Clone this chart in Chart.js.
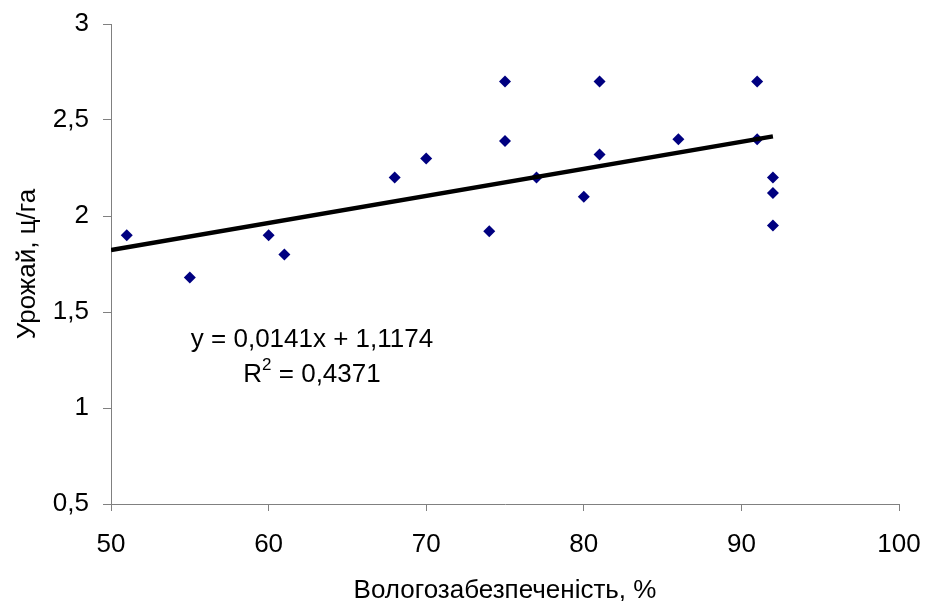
<!DOCTYPE html>
<html>
<head>
<meta charset="utf-8">
<script src="https://cdn.jsdelivr.net/npm/chart.js@4/dist/chart.umd.min.js"></script>
<style>
  html, body { margin: 0; padding: 0; background: #fff; }
  #wrap { width: 929px; height: 601px; }
</style>
</head>
<body>
<div id="wrap"><canvas id="canvas" width="929" height="601"></canvas></div>
<script>
// moisture supply, %
var moisture = [51, 55, 60, 61, 68, 70, 74, 75, 75, 77, 80, 81, 81, 86, 91, 91, 92, 92, 92];
// yield, c/ha
var yieldVals = [1.9, 1.68, 1.9, 1.8, 2.2, 2.3, 1.92, 2.7, 2.39, 2.2, 2.1, 2.7, 2.32, 2.4, 2.7, 2.4, 2.2, 2.12, 1.95];

// linear trend as printed on the chart
var slope = 0.0141;
var intercept = 1.1174;
var rSquared = 0.4371;
var trendX = [50, 92];

var xTicks = [50, 60, 70, 80, 90, 100];
var yTicks = [0.5, 1, 1.5, 2, 2.5, 3];

var points = moisture.map(function(x, i) { return { x: x, y: yieldVals[i] }; });
var trend = trendX.map(function(x) { return { x: x, y: slope * x + intercept }; });

function comma(v) { return String(v).replace('.', ','); }

var font = "'Liberation Sans', Arial, sans-serif";

var equationLabel = {
  id: 'equationLabel',
  afterDatasetsDraw: function(chart) {
    var ctx = chart.ctx;
    ctx.save();
    ctx.fillStyle = '#000';
    ctx.font = '26px ' + font;
    ctx.textAlign = 'center';
    ctx.textBaseline = 'middle';
    ctx.fillText('y = ' + comma(slope) + 'x + ' + comma(intercept), 312, 340);
    // R² line with superscript
    var a = 'R', b = ' = ' + comma(rSquared);
    var wa = ctx.measureText(a).width, wb = ctx.measureText(b).width;
    ctx.font = '17px ' + font;
    var ws = ctx.measureText('2').width;
    var total = wa + ws + wb;
    var x0 = 312 - total / 2;
    ctx.textAlign = 'left';
    ctx.font = '26px ' + font;
    ctx.fillText(a, x0, 375);
    ctx.font = '17px ' + font;
    ctx.fillText('2', x0 + wa, 365);
    ctx.font = '26px ' + font;
    ctx.fillText(b, x0 + wa + ws, 375);
    ctx.restore();
  }
};

var ctx = document.getElementById('canvas').getContext('2d');
var chart = new Chart(ctx, {
  type: 'scatter',
  data: {
    datasets: [{
      label: 'Урожай',
      data: points,
      pointStyle: 'rectRot',
      pointRadius: 6,
      pointHoverRadius: 6,
      backgroundColor: '#000080',
      borderColor: '#000080',
      borderWidth: 0,
      order: 2
    }, {
      label: 'Тренд',
      type: 'line',
      data: trend,
      borderColor: '#000',
      borderWidth: 4.5,
      pointRadius: 0,
      fill: false,
      order: 1
    }]
  },
  options: {
    responsive: false,
    animation: false,
    layout: { padding: { top: 24, right: 30, left: 0, bottom: 0 } },
    plugins: { legend: { display: false }, tooltip: { enabled: false } },
    scales: {
      x: {
        type: 'linear',
        min: 50, max: 100,
        afterBuildTicks: function(s) { s.ticks = xTicks.map(function(v) { return { value: v }; }); },
        afterFit: function(s) { s.height = 97; s.paddingLeft = 0; s.paddingRight = 0; },
        grid: { display: true, drawOnChartArea: false, drawTicks: true, tickLength: 7, tickColor: '#808080', color: '#808080' },
        border: { color: '#808080', width: 1 },
        ticks: { color: '#000', font: { family: font, size: 26 }, padding: 18, maxRotation: 0, callback: function(v) { return comma(v); } },
        title: { display: true, text: 'Вологозабезпеченість, %', color: '#000', font: { family: font, size: 26, lineHeight: 0.9 }, padding: { top: 8, bottom: -2 } }
      },
      y: {
        type: 'linear',
        min: 0.5, max: 3,
        afterBuildTicks: function(s) { s.ticks = yTicks.map(function(v) { return { value: v }; }); },
        afterFit: function(s) { s.width = 111; s.paddingTop = 0; s.paddingBottom = 0; },
        grid: { display: true, drawOnChartArea: false, drawTicks: true, tickLength: 8, tickColor: '#808080', color: '#808080' },
        border: { color: '#808080', width: 1 },
        ticks: { color: '#000', font: { family: font, size: 26 }, padding: 14, callback: function(v) { return comma(v); } },
        title: { display: true, text: 'Урожай, ц/га', color: '#000', font: { family: font, size: 26 }, padding: { top: 12, bottom: 0 } }
      }
    }
  },
  plugins: [equationLabel]
});
</script>
</body>
</html>
